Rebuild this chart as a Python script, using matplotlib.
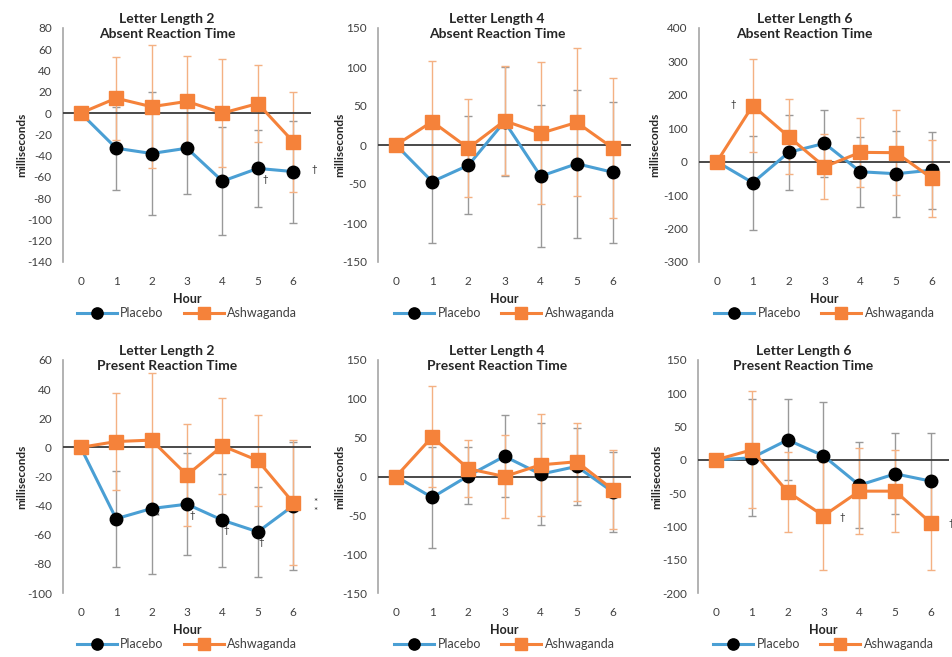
import matplotlib.pyplot as plt

plt.rcParams["font.family"] = ["Lato", "DejaVu Sans"]
plt.rcParams["axes.unicode_minus"] = False

hours = [0, 1, 2, 3, 4, 5, 6]

# Letter length 2, absent
ll2_abs_placebo = [0, -33, -38, -33, -64, -52, -55]
ll2_abs_placebo_sd = [0, 39, 58, 43, 51, 36, 48]
ll2_abs_ashwa = [0, 14, 6, 11, 0, 9, -27]
ll2_abs_ashwa_sd = [0, 39, 58, 43, 51, 36, 47]

# Letter length 4, absent
ll4_abs_placebo = [0, -47, -26, 30, -40, -24, -35]
ll4_abs_placebo_sd = [0, 79, 63, 70, 91, 95, 90]
ll4_abs_ashwa = [0, 30, -4, 31, 15, 29, -4]
ll4_abs_ashwa_sd = [0, 78, 63, 70, 91, 95, 90]

# Letter length 6, absent
ll6_abs_placebo = [0, -63, 28, 55, -30, -36, -25]
ll6_abs_placebo_sd = [0, 140, 113, 100, 104, 129, 115]
ll6_abs_ashwa = [0, 168, 75, -15, 28, 27, -50]
ll6_abs_ashwa_sd = [0, 140, 112, 97, 104, 128, 114]

# Letter length 2, present
ll2_pre_placebo = [0, -49, -42, -39, -50, -58, -40]
ll2_pre_placebo_sd = [0, 33, 45, 35, 32, 31, 44]
ll2_pre_ashwa = [0, 4, 5, -19, 1, -9, -38]
ll2_pre_ashwa_sd = [0, 33, 46, 35, 33, 31, 43]

# Letter length 4, present
ll4_pre_placebo = [0, -27, 1, 26, 3, 13, -20]
ll4_pre_placebo_sd = [0, 65, 37, 53, 66, 50, 51]
ll4_pre_ashwa = [0, 51, 10, 0, 15, 19, -17]
ll4_pre_ashwa_sd = [0, 65, 37, 53, 66, 50, 51]

# Letter length 6, present
ll6_pre_placebo = [0, 3, 30, 6, -38, -21, -32]
ll6_pre_placebo_sd = [0, 88, 61, 81, 65, 61, 72]
ll6_pre_ashwa = [0, 15, -48, -84, -47, -47, -95]
ll6_pre_ashwa_sd = [0, 88, 60, 81, 65, 62, 71]

BLUE = "#4a9fd4"
ORANGE = "#f5823a"
GRAY_ERR = "#999999"
ORANGE_ERR = "#f4b183"
TXT = "#404040"

panels = [
    dict(title="Letter Length 2\nAbsent Reaction Time", ylim=(-140, 80), step=20,
         pl=ll2_abs_placebo, pl_sd=ll2_abs_placebo_sd, aw=ll2_abs_ashwa, aw_sd=ll2_abs_ashwa_sd,
         marks=[(5.22, -62, "†"), (6.6, -53, "†")]),
    dict(title="Letter Length 4\nAbsent Reaction Time", ylim=(-150, 150), step=50,
         pl=ll4_abs_placebo, pl_sd=ll4_abs_placebo_sd, aw=ll4_abs_ashwa, aw_sd=ll4_abs_ashwa_sd,
         marks=[]),
    dict(title="Letter Length 6\nAbsent Reaction Time", ylim=(-300, 400), step=100,
         pl=ll6_abs_placebo, pl_sd=ll6_abs_placebo_sd, aw=ll6_abs_ashwa, aw_sd=ll6_abs_ashwa_sd,
         marks=[(0.45, 170, "†")]),
    dict(title="Letter Length 2\nPresent Reaction Time", ylim=(-100, 60), step=20,
         pl=ll2_pre_placebo, pl_sd=ll2_pre_placebo_sd, aw=ll2_pre_ashwa, aw_sd=ll2_pre_ashwa_sd,
         marks=[(2.16, -48, "*"), (3.15, -47, "†"), (4.12, -57, "†"), (5.1, -65, "†"),
                (6.62, -38, "*"), (6.62, -44, "*")]),
    dict(title="Letter Length 4\nPresent Reaction Time", ylim=(-150, 150), step=50,
         pl=ll4_pre_placebo, pl_sd=ll4_pre_placebo_sd, aw=ll4_pre_ashwa, aw_sd=ll4_pre_ashwa_sd,
         marks=[]),
    dict(title="Letter Length 6\nPresent Reaction Time", ylim=(-200, 150), step=50,
         pl=ll6_pre_placebo, pl_sd=ll6_pre_placebo_sd, aw=ll6_pre_ashwa, aw_sd=ll6_pre_ashwa_sd,
         marks=[(3.52, -86, "†"), (6.55, -95, "†")]),
]

W, H = 953, 657
# axes boxes in pixels: left, top, right, bottom
boxes = [
    (63, 28, 311, 262), (378, 28, 631, 262), (699, 28, 950, 262),
    (63, 360, 311, 593), (378, 360, 631, 593), (698, 360, 949, 593),
]
title_x = [0.42, 0.47, 0.42, 0.42, 0.47, 0.42]
ylabel_off = [-41, -38, -44, -41, -38, -41]

fig = plt.figure(figsize=(W / 100, H / 100), dpi=100)

for i, (p, (l, t, r, b)) in enumerate(zip(panels, boxes)):
    ax = fig.add_axes([l / W, 1 - b / H, (r - l) / W, (b - t) / H])
    hpx = b - t
    wpx = r - l

    ax.errorbar(hours, p["pl"], yerr=p["pl_sd"], fmt="none", ecolor=GRAY_ERR,
                elinewidth=1.0, capsize=3, capthick=1.0, zorder=2)
    ax.errorbar(hours, p["aw"], yerr=p["aw_sd"], fmt="none", ecolor=ORANGE_ERR,
                elinewidth=1.0, capsize=3, capthick=1.0, zorder=3)
    ax.axhline(0, color="#3a3a3a", lw=1.3, zorder=4)
    ax.plot(hours, p["pl"], color=BLUE, lw=2.2, marker="o", markersize=9,
            markerfacecolor="black", markeredgecolor="black", zorder=5, label="Placebo")
    ax.plot(hours, p["aw"], color=ORANGE, lw=2.2, marker="s", markersize=10,
            markerfacecolor=ORANGE, markeredgecolor=ORANGE, zorder=6, label="Ashwaganda")

    lo, hi = p["ylim"]
    ax.set_ylim(lo, hi)
    ax.set_yticks(range(lo, hi + 1, p["step"]))
    ax.set_xlim(-0.5, 6.5)
    ax.set_xticks(hours)

    for s in ["top", "right", "bottom"]:
        ax.spines[s].set_visible(False)
    ax.spines["left"].set_color("#a6a6a6")
    ax.spines["left"].set_linewidth(1.2)
    ax.tick_params(axis="both", length=0, labelsize=8.5, labelcolor=TXT)
    ax.tick_params(axis="y", pad=8)
    ax.tick_params(axis="x", pad=10)

    ax.text(title_x[i], 1 + 1.5 / hpx, p["title"], transform=ax.transAxes, ha="center",
            va="center", fontsize=10, fontweight="bold", color="#262626", linespacing=1.25)
    ax.text(ylabel_off[i] / wpx, 0.5, "milliseconds", transform=ax.transAxes, rotation=90,
            ha="center", va="center", fontsize=8.5, fontweight="bold", color="#262626")
    ax.text(0.5, -37 / hpx, "Hour", transform=ax.transAxes, ha="center", va="center",
            fontsize=9, fontweight="bold", color="#262626")

    for x, y, s in p["marks"]:
        ax.text(x, y, s, ha="center", va="center", fontsize=7, color="#262626",
                clip_on=False, zorder=7)

    ax.legend(loc="center", bbox_to_anchor=(0.5, -51 / hpx), ncol=2, frameon=False,
              fontsize=9, handlelength=3.2, columnspacing=1.6, handletextpad=0.3,
              labelcolor=TXT, markerscale=0.9)

fig.savefig("out.png", dpi=100, facecolor="white")
